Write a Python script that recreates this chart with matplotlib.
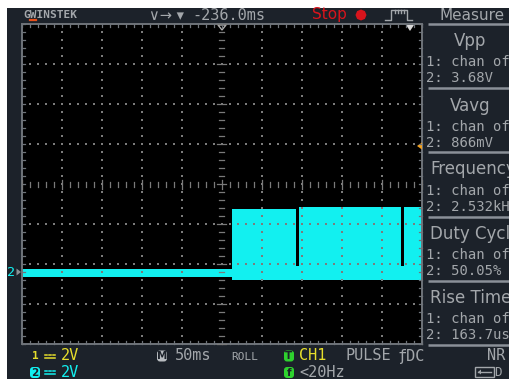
import matplotlib
matplotlib.use("Agg")
import matplotlib.pyplot as plt
from matplotlib.patches import Rectangle, FancyBboxPatch, Polygon, RegularPolygon
import numpy as np

# ---- channel 2 trace: time in ms (relative to screen centre), level in volts ----
idle_t = [-250.0, 12.5]
idle_high = 0.15
idle_low = -0.25
burst_start = [12.5, 96.0, 227.5]
burst_end = [92.5, 224.0, 250.0]
burst_high = [3.15, 3.25, 3.25]
burst_low = -0.4
gap_high = 0.3

time_per_div = 50.0      # ms/div
volts_per_div = 2.0      # V/div
ch2_position_div = -2.2  # ch2 ground relative to screen centre, divisions
h_divs, v_divs = 10, 8

# ---- readouts ----
measure_names = ["Vpp", "Vavg", "Frequency", "Duty Cycle", "Rise Time"]
measure_ch1 = ["chan of", "chan of", "chan of", "chan of", "chan of"]
measure_ch2 = ["3.68V", "866mV", "2.532kHz", "50.05%", "163.7us"]
h_position = "-236.0ms"
timebase_label = "50ms"
ch1_scale = "2V"
ch2_scale = "2V"

W, H, DPI = 510, 379, 100
PANEL = "#1c222a"
GREY = "#a3a7ab"
CYAN = "#12f0f0"
YELLOW = "#e6de2c"
GREEN = "#2ed22e"
MONO = "DejaVu Sans Mono"
SANS = "DejaVu Sans"

fig = plt.figure(figsize=(W / DPI, H / DPI), dpi=DPI, facecolor="white")

def px_axes(z):
    a = fig.add_axes([0, 0, 1, 1], zorder=z)
    a.set_xlim(0, W)
    a.set_ylim(H, 0)
    a.axis("off")
    a.patch.set_alpha(0)
    return a

back = px_axes(0)
back.add_patch(Rectangle((7, 8), W - 7, H - 8, color=PANEL, lw=0))

# ---- scope screen ----
sx0, sx1, sy0, sy1 = 22, 422, 24, 344
scope = fig.add_axes([sx0 / W, 1 - sy1 / H, (sx1 - sx0) / W, (sy1 - sy0) / H], zorder=1)
scope.set_facecolor("black")
half_t = time_per_div * h_divs / 2
v_centre = -ch2_position_div * volts_per_div
v_lo = v_centre - volts_per_div * v_divs / 2
v_hi = v_centre + volts_per_div * v_divs / 2
scope.set_xlim(-half_t, half_t)
scope.set_ylim(v_lo, v_hi)
for s in scope.spines.values():
    s.set_visible(False)
scope.set_xticks([])
scope.set_yticks([])

# idle level before the burst
scope.fill_between(idle_t, idle_low, idle_high, color=CYAN, lw=0, zorder=2)
# low rail during the burst (continues through the gaps)
scope.fill_between([burst_start[0], burst_end[-1]], burst_low, gap_high,
                   color=CYAN, lw=0, zorder=2)
for t0, t1, hi in zip(burst_start, burst_end, burst_high):
    scope.fill_between([t0, t1], burst_low, hi, color=CYAN, lw=0, zorder=2)

# dotted graticule
minor_t = time_per_div / 5
minor_v = volts_per_div / 5
t_minor = np.arange(-half_t, half_t + 1e-6, minor_t)
v_minor = np.arange(v_lo, v_hi + 1e-6, minor_v)
dots_x, dots_y = [], []
for k in range(1, h_divs):
    if k == h_divs // 2:
        continue
    tx = -half_t + k * time_per_div
    dots_x += [tx] * len(v_minor)
    dots_y += list(v_minor)
for k in range(1, v_divs):
    if k == v_divs // 2:
        continue
    vy = v_lo + k * volts_per_div
    dots_x += list(t_minor)
    dots_y += [vy] * len(t_minor)
scope.scatter(dots_x, dots_y, s=1.0, marker="s", color="#7c7c7c", lw=0, zorder=3)

# ---- foreground overlay: frame, ticks, markers ----
fg = px_axes(2)
frame_c = "#6f747a"
fg.add_patch(Rectangle((sx0, sy0), sx1 - sx0, sy1 - sy0, fill=False, ec=frame_c, lw=1.4))
for x in np.arange(sx0, sx1 + 0.1, 8):
    fg.plot([x, x], [sy0, sy0 + 3], color=frame_c, lw=0.9)
    fg.plot([x, x], [sy1, sy1 - 3], color=frame_c, lw=0.9)
for y in np.arange(sy0, sy1 + 0.1, 8):
    fg.plot([sx0, sx0 + 3], [y, y], color=frame_c, lw=0.9)
    fg.plot([sx1, sx1 - 3], [y, y], color=frame_c, lw=0.9)
cx, cy = (sx0 + sx1) / 2, (sy0 + sy1) / 2
tick_c = "#7a7a7a"
for i, x in enumerate(np.arange(sx0, sx1 + 0.1, 8)):
    h = 4.5 if i % 5 == 0 else 2.5
    fg.plot([x, x], [cy - h, cy + h], color=tick_c, lw=0.9)
for i, y in enumerate(np.arange(sy0, sy1 + 0.1, 8)):
    w = 4.5 if i % 5 == 0 else 2.5
    fg.plot([cx - w, cx + w], [y, y], color=tick_c, lw=0.9)

# trigger position / level markers
fg.add_patch(Polygon([[cx - 4, 25], [cx + 4, 25], [cx, 30]], closed=True, fill=False,
                     ec="#b0b0b0", lw=1))
fg.add_patch(Polygon([[406, 25], [414, 25], [410, 31]], closed=True, color="#d8d8d8", lw=0))
fg.add_patch(Polygon([[422, 142.5], [422, 149.5], [417, 146]], closed=True, color="#f0a020", lw=0))
# channel 2 ground marker
g_y = sy1 - (0 - v_lo) / (v_hi - v_lo) * (sy1 - sy0)
fg.text(7, g_y, "2", color=CYAN, fontsize=9.5, family=MONO, va="center", ha="left")
fg.add_patch(Polygon([[16.5, g_y - 3.5], [16.5, g_y + 3.5], [21, g_y]], closed=True,
                     color="#8a8f94", lw=0))

# ---- header ----
back.text(23, 15, "GWINSTEK", color=GREY, fontsize=8, family=MONO, weight="bold",
          va="center", ha="left")
back.plot([30, 36.5], [19.5, 19.5], color="#e8501a", lw=1.6)
back.text(149, 15, "\u2228\u2192 \u25be", color=GREY, fontsize=10.5, family=SANS,
          va="center", ha="left")
back.text(192, 15, h_position, color=GREY, fontsize=11, family=MONO, va="center", ha="left")
back.text(312, 15, "Stop", color="#d8141c", fontsize=11, family=SANS, va="center", ha="left")
back.add_patch(RegularPolygon((361, 15), 8, radius=5.5, color="#d8141c", lw=0))
pulse_x = [385, 391, 391, 407, 407, 412]
pulse_y = [20, 20, 10, 10, 20, 20]
back.plot(pulse_x, pulse_y, color=GREY, lw=1)
for x in [395, 398, 401, 404]:
    back.plot([x, x], [10, 13], color=GREY, lw=1)
back.text(440, 15, "Measure", color=GREY, fontsize=11, family=SANS, va="center", ha="left")

# ---- measurement panel ----
sep_c = "#8a9098"
sep0, sep_step = 24, 64.2
for i in range(len(measure_names) + 1):
    y = sep0 + i * sep_step
    back.plot([428, W], [y, y], color=sep_c, lw=1.8, solid_capstyle="butt")
for i, name in enumerate(measure_names):
    top = sep0 + i * sep_step
    if len(name) <= 4:
        back.text(470, top + 17.5, name, color=GREY, fontsize=12, family=SANS,
                  va="center", ha="center")
    else:
        back.text(430, top + 17, name, color=GREY, fontsize=12, family=SANS,
                  va="center", ha="left")
    back.text(426, top + 38.5, "1: " + measure_ch1[i], color=GREY, fontsize=10,
              family=MONO, va="center", ha="left")
    back.text(426, top + 54.5, "2: " + measure_ch2[i], color=GREY, fontsize=10,
              family=MONO, va="center", ha="left")

# ---- footer ----
def dc_symbol(x, y, c):
    back.plot([x, x + 10], [y + 1.5, y + 1.5], color=c, lw=1.1)
    for dx in (0, 4, 8):
        back.plot([x + dx, x + dx + 2], [y - 1.5, y - 1.5], color=c, lw=1.1)

def badge(x, y, ch, fc):
    back.add_patch(FancyBboxPatch((x, y - 5.5), 10, 11, boxstyle="round,pad=0,rounding_size=3",
                                  fc=fc, ec="none"))
    back.text(x + 5, y + 0.3, ch, color=PANEL, fontsize=7.5, family=SANS, weight="bold",
              va="center", ha="center")

r1, r2 = 356, 372.5
back.text(32, r1, "1", color=YELLOW, fontsize=8, family=MONO, weight="bold",
          va="center", ha="left")
dc_symbol(45, r1, YELLOW)
back.text(61, r1, ch1_scale, color=YELLOW, fontsize=11, family=MONO, va="center", ha="left")
badge(30, r2, "2", CYAN)
dc_symbol(45, r2, CYAN)
back.text(61, r2, ch2_scale, color=CYAN, fontsize=11, family=MONO, va="center", ha="left")

badge(157, r1, "M", "#b8bcc0")
back.text(175, r1, timebase_label, color=GREY, fontsize=11, family=MONO, va="center", ha="left")
back.text(231, r1 + 0.5, "ROLL", color=GREY, fontsize=8, family=MONO, va="center", ha="left")
badge(284, r1, "T", GREEN)
back.text(299, r1, "CH1", color=YELLOW, fontsize=11, family=MONO, va="center", ha="left")
back.text(346, r1, "PULSE", color=GREY, fontsize=11, family=MONO, va="center", ha="left")
back.text(398, r1, "\u0192DC", color=GREY, fontsize=11, family=MONO, va="center", ha="left")
back.text(487, r1, "NR", color=GREY, fontsize=11, family=MONO, va="center", ha="left")
badge(284, r2, "f", GREEN)
back.text(299, r2, "<20Hz", color=GREY, fontsize=11, family=MONO, va="center", ha="left")

# usb indicator
back.add_patch(Rectangle((475, 367), 19, 10, fill=False, ec=GREY, lw=1))
back.plot([478, 491], [372, 372], color=GREY, lw=1)
back.add_patch(Polygon([[478, 372], [481, 369.5], [481, 374.5]], closed=True, color=GREY, lw=0))
back.text(494, 372.5, "D", color=GREY, fontsize=9, family=MONO, va="center", ha="left")

fig.savefig("out.png", dpi=DPI, facecolor=fig.get_facecolor())
